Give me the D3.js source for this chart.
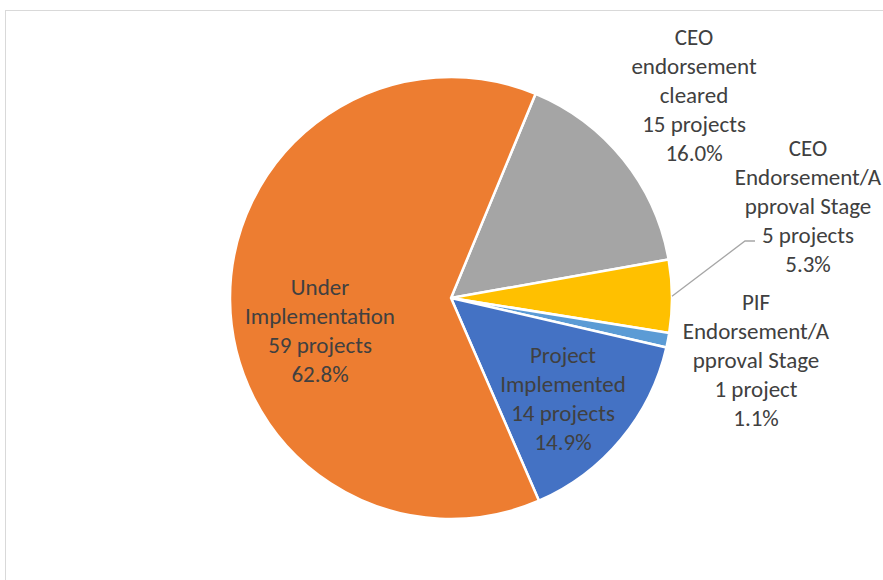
<!DOCTYPE html>
<html><head><meta charset="utf-8">
<script src="https://cdn.jsdelivr.net/npm/d3@7"></script>
<style>body{margin:0;background:#fff}svg{display:block}</style>
</head><body>
<script>
const categories = ["CEO endorsement cleared", "CEO Endorsement/Approval Stage", "PIF Endorsement/Approval Stage", "Project Implemented", "Under Implementation"];
const labelLines = [
  ["CEO","endorsement","cleared"],
  ["CEO","Endorsement/A","pproval Stage"],
  ["PIF","Endorsement/A","pproval Stage"],
  ["Project","Implemented"],
  ["Under","Implementation"]
];
const values = [15, 5, 1, 14, 59];
const units = ["projects","projects","project","projects","projects"];
const colors = ["#a5a5a5", "#ffc000", "#5b9bd5", "#4472c4", "#ed7d31"];
// label centre positions (layout), first line centre y
const labelPos = [[694,37],[808,148],[756,302],[563,355],[320,287]];

const W = 883, H = 580;
const cx = 451, cy = 298, R = 221;
const svg = d3.select("body").append("svg").attr("width", W).attr("height", H);
svg.append("rect").attr("x",5.5).attr("y",10.5).attr("width",W+10).attr("height",H+10)
  .attr("fill","#fff").attr("stroke","#d9d9d9").attr("stroke-width",1);

const total = d3.sum(values);
const start = 22.5 * Math.PI/180;
const pie = d3.pie().sort(null).startAngle(start).endAngle(start + 2*Math.PI);
const arcs = pie(values);
const arc = d3.arc().innerRadius(0).outerRadius(R);
const g = svg.append("g").attr("transform", `translate(${cx},${cy})`);
g.selectAll("path").data(arcs).join("path")
  .attr("d", arc).attr("fill", (d,i)=>colors[i])
  .attr("stroke","#fff").attr("stroke-width",2.5).attr("stroke-linejoin","miter");

// leader line for the small yellow slice
const ya = arcs[1];
const mid = (ya.startAngle + ya.endAngle)/2;
const p0 = [cx + R*Math.sin(mid), cy - R*Math.cos(mid)];
svg.append("polyline")
  .attr("points", [p0, [745,241], [755,241]].map(p=>p.join(",")).join(" "))
  .attr("fill","none").attr("stroke","#a6a6a6").attr("stroke-width",1.3);

const fs = 23, lh = 29;
arcs.forEach((d,i)=>{
  const lines = labelLines[i].concat([values[i]+" "+units[i], (values[i]/total*100).toFixed(1)+"%"]);
  const t = svg.append("text").attr("text-anchor","middle")
    .attr("font-family","Carlito, Lato, 'Open Sans', sans-serif").attr("font-size",fs)
    .attr("fill","#404040");
  lines.forEach((ln,k)=>{
    t.append("tspan").attr("x", labelPos[i][0]).attr("y", labelPos[i][1] + k*lh + 8).text(ln);
  });
});
</script>
</body></html>
